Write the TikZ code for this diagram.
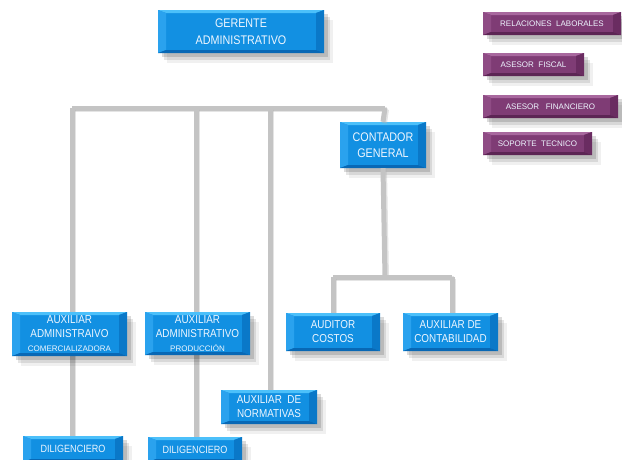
\documentclass[tikz,border=0pt]{standalone}
\usepackage{fontspec}
\setmainfont{Liberation Sans}[FakeStretch=0.86]
\newfontfamily\widesans{Liberation Sans}
\usetikzlibrary{shadows}
\definecolor{bmain}{HTML}{1290E2}
\definecolor{btop}{HTML}{4CC0FA}
\definecolor{bleft}{HTML}{2AA2EE}
\definecolor{bright}{HTML}{0A78C8}
\definecolor{bbot}{HTML}{0868B5}
\definecolor{pmain}{HTML}{7F3C75}
\definecolor{ptop}{HTML}{A8689E}
\definecolor{pleft}{HTML}{8F4C85}
\definecolor{pright}{HTML}{6A2C61}
\definecolor{pbot}{HTML}{5C2554}
\definecolor{linegray}{HTML}{C4C4C4}
\definecolor{txt}{HTML}{EEF6FF}
\tikzset{
  bev/.style n args={5}{fill=#1,
    path picture={
      \coordinate (pnw) at (path picture bounding box.north west);
      \coordinate (pne) at (path picture bounding box.north east);
      \coordinate (psw) at (path picture bounding box.south west);
      \coordinate (pse) at (path picture bounding box.south east);
      \fill[#2] (pnw) -- (pne) -- ([shift={(-8pt,-3pt)}]pne) -- ([shift={(8pt,-3pt)}]pnw) -- cycle;
      \fill[#3] (pnw) -- ([shift={(8pt,-3pt)}]pnw) -- ([shift={(8pt,3pt)}]psw) -- (psw) -- cycle;
      \fill[#4] (pne) -- ([shift={(-8pt,-3pt)}]pne) -- ([shift={(-8pt,3pt)}]pse) -- (pse) -- cycle;
      \fill[#5] (psw) -- (pse) -- ([shift={(-8pt,3pt)}]pse) -- ([shift={(8pt,3pt)}]psw) -- cycle;
    }},
  shd/.style={drop shadow={shadow xshift=9pt,shadow yshift=-10pt,opacity=0.06,fill=black},
              drop shadow={shadow xshift=6pt,shadow yshift=-7pt,opacity=0.1,fill=black},
              drop shadow={shadow xshift=4pt,shadow yshift=-4pt,opacity=0.14,fill=black}},
  bbox/.style={shd,bev={bmain}{btop}{bleft}{bright}{bbot},inner sep=0pt,align=center,
    text=txt,font=\fontsize{11.5}{14}\selectfont},
  pbox/.style={shd,bev={pmain}{ptop}{pleft}{pright}{pbot},inner sep=0pt,align=center,
    text=txt,font=\widesans\fontsize{8}{9}\selectfont,minimum height=23pt},
  conn/.style={draw=linegray,line width=5pt,preaction={draw=black!30,line width=5pt,transform canvas={xshift=1.5pt,yshift=-1.5pt},opacity=0.35}}
}
\begin{document}
\begin{tikzpicture}[x=1pt,y=-1pt]
\useasboundingbox (0,0) rectangle (622,459);
% coordinates for the connector bus
\coordinate (b1) at (72,108);
\coordinate (b2) at (196,108);
\coordinate (b3) at (270,108);
\coordinate (b4) at (385,108);
\coordinate (c0) at (385,277);
\coordinate (c1) at (333,277);
\coordinate (c2) at (452,277);
\coordinate (e1) at (72,459);
\coordinate (e2) at (196,459);
\coordinate (e3) at (270,392);
\coordinate (e4) at (333,315);
\coordinate (e5) at (452,315);
% upper nodes
\path
  (241,31.5) node[bbox,minimum width=166pt,minimum height=43pt,font=\fontsize{12.5}{17}\selectfont] (ger) {GERENTE\\ADMINISTRATIVO}
  (383,145) node[bbox,minimum width=86pt,minimum height=46pt,font=\fontsize{12.5}{16}\selectfont] (cont) {CONTADOR\\GENERAL}
  (552,23.5) node[pbox,minimum width=138pt] (rel) {RELACIONES\ \ LABORALES}
  (533.5,64.5) node[pbox,minimum width=101pt] (fis) {ASESOR\ \ FISCAL}
  (550.5,106.5) node[pbox,minimum width=135pt] (fin) {ASESOR\ \ \ FINANCIERO}
  (537.5,143.5) node[pbox,minimum width=109pt] (sop) {SOPORTE\ \ TECNICO};
% connectors (drawn before the lower boxes)
\draw[conn] (b1) -- (b4);
\draw[conn] (b1) -- (e1);
\draw[conn] (b2) -- (e2);
\draw[conn] (b3) -- (e3);
\draw[conn] (b4) -- (cont.north);
\draw[conn] (cont.south) -- (c0);
\draw[conn] (c1) -- (c2);
\draw[conn] (c1) -- (e4);
\draw[conn] (c2) -- (e5);
% lower nodes
\path
  (69.5,334) node[bbox,minimum width=115pt,minimum height=44pt] (com) {AUXILIAR\\ADMINISTRAIVO\\{\widesans\fontsize{8}{9}\selectfont COMERCIALIZADORA}}
  (197.5,333.5) node[bbox,minimum width=105pt,minimum height=43pt] (pro) {AUXILIAR\\ADMINISTRATIVO\\{\widesans\fontsize{8}{9}\selectfont PRODUCCI\'ON}}
  (333,332) node[bbox,minimum width=94pt,minimum height=38pt] (aud) {AUDITOR\\COSTOS}
  (450.5,332) node[bbox,minimum width=95pt,minimum height=38pt] (acon) {AUXILIAR DE\\CONTABILIDAD}
  (269,407) node[bbox,minimum width=96pt,minimum height=34pt] (nor) {AUXILIAR\ \ DE\\NORMATIVAS}
  (73,449) node[bbox,minimum width=100pt,minimum height=26pt,font=\fontsize{10.5}{12}\selectfont] (dil1) {DILIGENCIERO}
  (195,449.5) node[bbox,minimum width=94pt,minimum height=25pt,font=\fontsize{10.5}{12}\selectfont] (dil2) {DILIGENCIERO};
\end{tikzpicture}
\end{document}
